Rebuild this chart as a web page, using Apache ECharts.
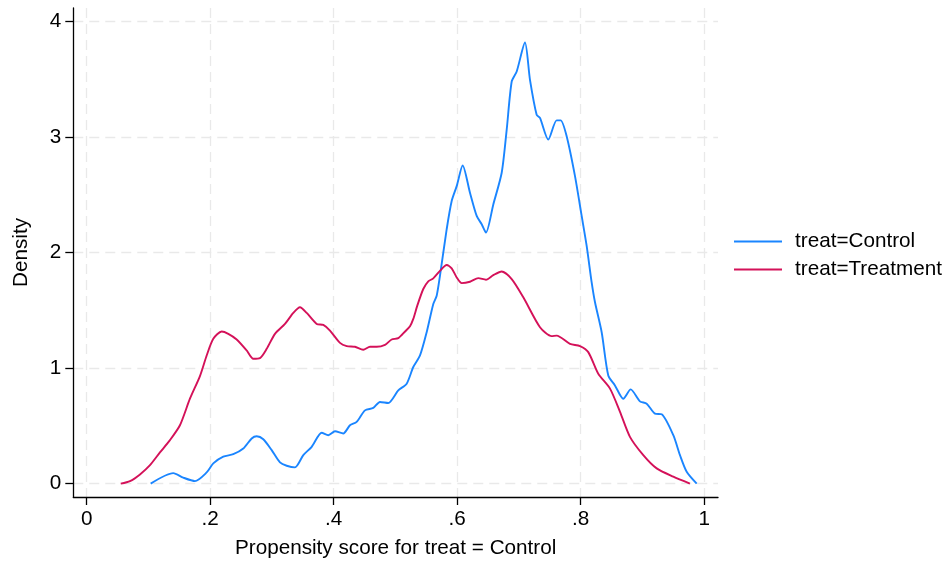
<!DOCTYPE html>
<html>
<head>
<meta charset="utf-8">
<script src="https://cdn.jsdelivr.net/npm/echarts@6/dist/echarts.min.js"></script>
<style>
html,body{margin:0;padding:0;background:#fff;}
#chart{width:950px;height:564px;}
</style>
</head>
<body>
<div id="chart"></div>
<script>
// ---- Data ----
var controlX = [0.1036,0.1402,0.1564,0.1754,0.1943,0.2050,0.2212,0.2374,0.2536,0.2672,0.2753,0.2860,0.2996,0.3130,0.3239,0.3373,0.3508,0.3644,0.3806,0.3913,0.4021,0.4155,0.4264,0.4372,0.4507,0.4641,0.4750,0.4884,0.5046,0.5182,0.5289,0.5398,0.5506,0.5613,0.5668,0.5721,0.5830,0.5911,0.5992,0.6089,0.6207,0.6316,0.6397,0.6466,0.6585,0.6721,0.6802,0.6883,0.6964,0.7098,0.7179,0.7287,0.7341,0.7475,0.7611,0.7676,0.7773,0.7908,0.8016,0.8097,0.8178,0.8232,0.8340,0.8447,0.8555,0.8690,0.8810,0.8960,0.9069,0.9203,0.9312,0.9500,0.9608,0.9717,0.9879];
var controlY = [0.000,0.091,0.052,0.022,0.097,0.175,0.233,0.255,0.304,0.391,0.410,0.384,0.290,0.184,0.155,0.141,0.247,0.319,0.440,0.419,0.453,0.434,0.505,0.534,0.634,0.655,0.707,0.698,0.807,0.865,1.009,1.109,1.310,1.554,1.626,1.798,2.201,2.445,2.574,2.753,2.517,2.316,2.244,2.172,2.416,2.690,3.063,3.479,3.566,3.816,3.494,3.192,3.164,2.977,3.143,3.143,3.005,2.660,2.316,2.057,1.741,1.569,1.310,0.936,0.850,0.735,0.816,0.712,0.692,0.606,0.600,0.419,0.247,0.103,0.000];

var treatX = [0.0551,0.0701,0.0863,0.1025,0.1186,0.1348,0.1510,0.1672,0.1834,0.1943,0.2050,0.2186,0.2293,0.2429,0.2591,0.2698,0.2806,0.2915,0.3049,0.3211,0.3346,0.3454,0.3563,0.3725,0.3832,0.3940,0.4102,0.4211,0.4345,0.4479,0.4588,0.4696,0.4831,0.4939,0.5046,0.5155,0.5236,0.5289,0.5354,0.5451,0.5532,0.5613,0.5721,0.5830,0.5911,0.5992,0.6073,0.6207,0.6342,0.6466,0.6585,0.6721,0.6883,0.7071,0.7341,0.7530,0.7611,0.7827,0.7989,0.8123,0.8285,0.8475,0.8637,0.8798,0.9014,0.9231,0.9500,0.9769];
var treatY = [0.000,0.022,0.080,0.160,0.270,0.376,0.505,0.735,0.931,1.109,1.253,1.316,1.296,1.247,1.152,1.080,1.086,1.166,1.296,1.382,1.477,1.526,1.477,1.382,1.373,1.324,1.218,1.190,1.184,1.158,1.184,1.184,1.201,1.247,1.259,1.316,1.362,1.425,1.540,1.684,1.750,1.776,1.841,1.891,1.862,1.784,1.735,1.747,1.778,1.764,1.804,1.836,1.770,1.612,1.353,1.276,1.281,1.209,1.190,1.138,0.951,0.822,0.621,0.405,0.247,0.132,0.060,0.000];

var seriesNames = ['treat=Control', 'treat=Treatment'];
var xTickValues = [0, 0.2, 0.4, 0.6, 0.8, 1];
var xTickLabels = ['0', '.2', '.4', '.6', '.8', '1'];
var yTickValues = [0, 1, 2, 3, 4];
var yTickLabels = ['0', '1', '2', '3', '4'];
var xTitle = 'Propensity score for treat = Control';
var yTitle = 'Density';

function zip(xs, ys) { return xs.map(function (x, i) { return [x, ys[i]]; }); }
function labelFor(vals, labels) {
  return function (v) {
    for (var i = 0; i < vals.length; i++) { if (Math.abs(vals[i] - v) < 1e-9) return labels[i]; }
    return '';
  };
}

var FONT = 'Liberation Sans, Arial, sans-serif';
var FS = 20.7;
var chart = echarts.init(document.getElementById('chart'), null, { renderer: 'canvas' });
var gridLine = { show: true, lineStyle: { color: '#e9e9e9', width: 1.3, type: [10, 6] } };

chart.setOption({
  animation: false,
  backgroundColor: '#ffffff',
  grid: { left: 73.3, right: 232, top: 8, bottom: 65.3, containLabel: false },
  legend: {
    orient: 'vertical',
    left: 734,
    top: 231,
    padding: 0,
    itemWidth: 48,
    itemHeight: 2,
    itemGap: 7,
    icon: 'rect',
    textStyle: { fontFamily: FONT, fontSize: FS, color: '#000', padding: [0, 0, 0, 8] },
    data: seriesNames
  },
  xAxis: {
    type: 'value',
    min: -0.0217,
    max: 1.0224,
    name: xTitle,
    nameLocation: 'middle',
    nameGap: 41,
    nameTextStyle: { fontFamily: FONT, fontSize: FS, color: '#000' },
    axisLine: { show: true, onZero: false, lineStyle: { color: '#000', width: 1.3 } },
    axisTick: { show: true, length: 8, customValues: xTickValues, lineStyle: { color: '#000', width: 1.3 } },
    axisLabel: { customValues: xTickValues, margin: 12, fontFamily: FONT, fontSize: FS, color: '#000', formatter: labelFor(xTickValues, xTickLabels), showMinLabel: true, showMaxLabel: true },
    splitLine: gridLine
  },
  yAxis: {
    type: 'value',
    min: -0.1155,
    max: 4.115,
    name: yTitle,
    nameLocation: 'middle',
    nameGap: 42,
    nameTextStyle: { fontFamily: FONT, fontSize: FS, color: '#000' },
    axisLine: { show: true, onZero: false, lineStyle: { color: '#000', width: 1.3 } },
    axisTick: { show: true, length: 8, customValues: yTickValues, lineStyle: { color: '#000', width: 1.3 } },
    axisLabel: { customValues: yTickValues, margin: 12, fontFamily: FONT, fontSize: FS, color: '#000', formatter: labelFor(yTickValues, yTickLabels), showMinLabel: true, showMaxLabel: true },
    splitLine: gridLine
  },
  series: [
    {
      name: seriesNames[0], type: 'line', data: zip(controlX, controlY),
      showSymbol: false, symbol: 'none', smooth: 0.25,
      lineStyle: { color: '#1a85ff', width: 1.9 }, itemStyle: { color: '#1a85ff' }
    },
    {
      name: seriesNames[1], type: 'line', data: zip(treatX, treatY),
      showSymbol: false, symbol: 'none', smooth: 0.25,
      lineStyle: { color: '#d41159', width: 1.9 }, itemStyle: { color: '#d41159' }
    }
  ]
});
</script>
</body>
</html>
